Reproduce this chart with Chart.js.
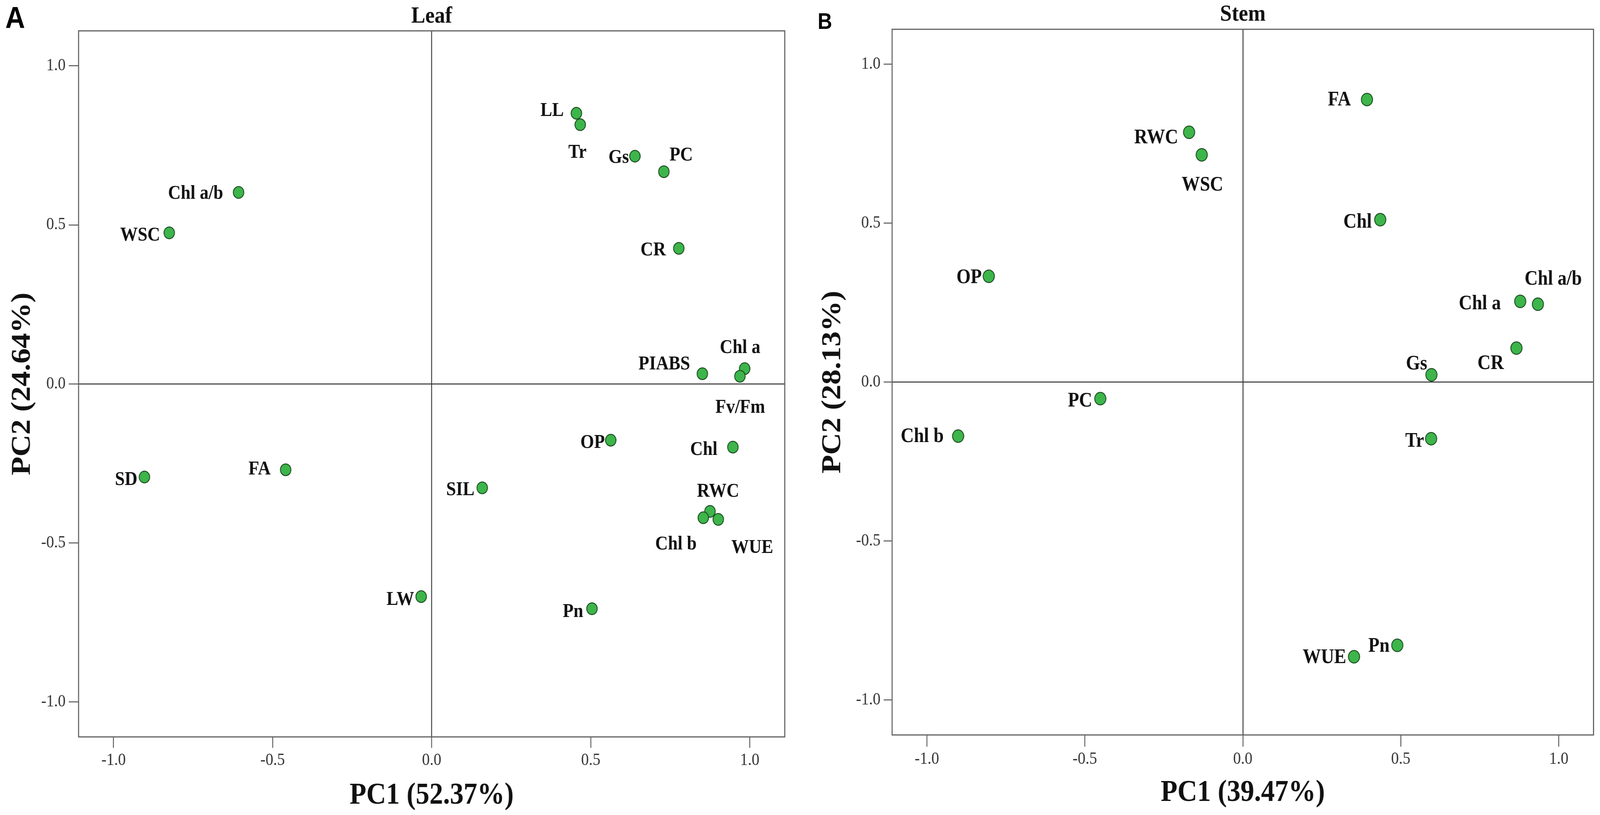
<!DOCTYPE html>
<html>
<head>
<meta charset="utf-8">
<title>PCA loadings - Leaf and Stem</title>
<script src="https://cdn.jsdelivr.net/npm/chart.js@4.4.1/dist/chart.umd.min.js"></script>
<style>
  html, body { margin: 0; padding: 0; background: #fff; overflow: hidden; }
  #page { position: relative; width: 4561px; height: 2087px; transform-origin: 0 0; }
  canvas { position: absolute; top: 0; }
  #leafChart { left: 0; }
  #stemChart { left: 2280px; }
  .panel-tag { position: absolute; font-family: "Liberation Sans", Arial, sans-serif; font-weight: bold; line-height: 1; color: #000; }
  #tagA { left: 15px; top: 6px; font-size: 78px; }
  #tagB { left: 2331px; top: 26px; font-size: 57px; }
</style>
</head>
<body>
<div id="page">
  <canvas id="leafChart" width="2280" height="2087"></canvas>
  <canvas id="stemChart" width="2281" height="2087"></canvas>
  <div class="panel-tag" id="tagA">A</div>
  <div class="panel-tag" id="tagB">B</div>
</div>
<script>
const tickValues = [-1.0, -0.5, 0.0, 0.5, 1.0];
const tickLabels = ['-1.0', '-0.5', '0.0', '0.5', '1.0'];

// Leaf loadings (panel A)
const leafTraits = ['Chl a/b', 'WSC', 'LL', 'Tr', 'Gs', 'PC', 'CR', 'PIABS', 'Chl a', 'Fv/Fm',
                    'OP', 'Chl', 'SIL', 'RWC', 'Chl b', 'WUE', 'SD', 'FA', 'LW', 'Pn'];
const leafPC1 = [-0.607, -0.825, 0.455, 0.467, 0.639, 0.730, 0.777, 0.851, 0.984, 0.969,
                 0.563, 0.947, 0.159, 0.875, 0.854, 0.901, -0.903, -0.459, -0.033, 0.504];
const leafPC2 = [0.602, 0.475, 0.851, 0.815, 0.716, 0.667, 0.426, 0.032, 0.048, 0.024,
                 -0.177, -0.199, -0.327, -0.401, -0.421, -0.426, -0.293, -0.270, -0.669, -0.707];

// Stem loadings (panel B)
const stemTraits = ['FA', 'RWC', 'WSC', 'Chl', 'OP', 'Chl a/b', 'Chl a', 'CR', 'Gs', 'PC',
                    'Chl b', 'Tr', 'Pn', 'WUE'];
const stemPC1 = [0.393, -0.170, -0.130, 0.435, -0.804, 0.934, 0.878, 0.866, 0.597, -0.451,
                 -0.901, 0.596, 0.489, 0.352];
const stemPC2 = [0.889, 0.786, 0.715, 0.511, 0.333, 0.245, 0.254, 0.107, 0.023, -0.052,
                 -0.170, -0.178, -0.828, -0.864];

// where each name sits next to its dot: [textAlign, dx, dy to baseline]
const leafLabelPlacement = [
  ['right', -44, 16], ['right', -26, 20], ['right', -36, 7], ['center', -8, 85],
  ['right', -17, 17], ['left', 16, -29], ['right', -37, 18], ['right', -35, -11],
  ['center', -13, -40], ['center', 1, 94], ['right', -17, 20], ['right', -44, 20],
  ['right', -22, 19], ['center', 23, -38], ['center', -78, 81], ['center', 97, 86],
  ['right', -20, 20], ['right', -43, 12], ['right', -20, 21], ['right', -25, 21]
];
const stemLabelPlacement = [
  ['right', -46, 15], ['right', -31, 28], ['center', 2, 91], ['right', -24, 20],
  ['right', -20, 18], ['left', -38, -50], ['right', -55, 20], ['right', -36, 54],
  ['right', -12, -14], ['right', -23, 20], ['right', -41, 15], ['right', -20, 21],
  ['right', -22, 17], ['right', -22, 16]
];

const SERIF = '"Liberation Serif", "Times New Roman", serif';
const PAGE_W = 4561;
const PAGE_H = 2087;

// the page is laid out at 4561x2087; stretch it onto whatever the viewport really is
const scaleX = window.innerWidth / PAGE_W;
const scaleY = window.innerHeight / PAGE_H;
document.getElementById('page').style.transform = `scale(${scaleX}, ${scaleY})`;
const renderRatio = Math.max(scaleX, scaleY) * (window.devicePixelRatio || 1);

const plotFrame = {
  id: 'plotFrame',
  beforeDatasetsDraw(chart) {
    const { ctx, chartArea: { left, top, right, bottom } } = chart;
    ctx.save();
    ctx.strokeStyle = '#606060';
    ctx.lineWidth = 3;
    ctx.strokeRect(left, top, right - left, bottom - top);
    ctx.restore();
  }
};

const makeTraitLabels = (names, placement, size) => ({
  id: 'traitLabels',
  afterDatasetsDraw(chart) {
    const { ctx } = chart;
    ctx.save();
    ctx.font = `bold ${size}px ${SERIF}`;
    ctx.fillStyle = '#111';
    ctx.textBaseline = 'alphabetic';
    chart.getDatasetMeta(0).data.forEach((pt, i) => {
        const [align, dx, dy] = placement[i];
        ctx.textAlign = align;
        ctx.fillText(names[i], pt.x + dx, pt.y + dy);
    });
    ctx.restore();
  }
});

const pcAxis = (title, titlePad, tickLength, tickPad, boxSize, horizontal) => ({
    type: 'linear',
    min: -1.11,
    max: 1.11,
    afterBuildTicks: (scale) => { scale.ticks = tickValues.map(value => ({ value })); },
    afterFit: (scale) => {
        if (horizontal) scale.height = boxSize;
        else scale.width = boxSize;
    },
    border: { display: false },
    grid: {
        drawOnChartArea: true,
        color: (ctx) => (ctx.tick && ctx.tick.value === 0 ? '#2e2e2e' : 'rgba(0,0,0,0)'),
        lineWidth: 2.5,
        tickColor: '#555',
        tickWidth: 2.5,
        tickLength
    },
    ticks: {
        padding: tickPad,
        color: '#333',
        font: { family: SERIF, size: 44 },
        callback: (value, index) => tickLabels[index]
    },
    title: {
        display: true,
        text: title,
        color: '#111',
        padding: horizontal ? { top: 0, bottom: titlePad } : { top: titlePad, bottom: 0 },
        font: { family: SERIF, size: 78, weight: 'bold', lineHeight: 1.2 }
    }
});

function createLoadingPlot(canvas, cfg) {
    return new Chart(canvas, {
        type: 'scatter',
        data: {
            datasets: [{
                data: cfg.pc1.map((x, i) => ({ x, y: cfg.pc2[i] })),
                pointRadius: cfg.radius,
                pointBackgroundColor: '#3db54a',
                pointBorderColor: '#1e4f24',
                pointBorderWidth: 2.5,
                showLine: false
            }]
        },
        options: {
            responsive: false,
            animation: false,
            devicePixelRatio: renderRatio,
            layout: { padding: { left: 0, top: 0, right: cfg.rightPad, bottom: 0 } },
            plugins: {
                legend: { display: false },
                tooltip: { enabled: false },
                title: {
                    display: true,
                    text: cfg.title,
                    fullSize: false,
                    color: '#111',
                    padding: cfg.titlePad,
                    font: { family: SERIF, size: 60, weight: 'bold', lineHeight: 1.2 }
                }
            },
            scales: {
                x: pcAxis(cfg.xTitle, cfg.xTitlePad, cfg.xTick, 6, cfg.xBox, true),
                y: pcAxis(cfg.yTitle, cfg.yTitlePad, cfg.yTick, 9, cfg.yBox, false)
            }
        },
        plugins: [plotFrame, makeTraitLabels(cfg.names, cfg.placement, cfg.labelSize)]
    });
}

createLoadingPlot(document.getElementById('leafChart'), {
    title: 'Leaf', titlePad: { top: 6, bottom: 1 },
    names: leafTraits, pc1: leafPC1, pc2: leafPC2, placement: leafLabelPlacement,
    xTitle: 'PC1 (52.37%)', yTitle: 'PC2 (24.64%)',
    xTitlePad: 2, yTitlePad: 18, xTick: 28, yTick: 28,
    xBox: 200, yBox: 224, rightPad: 43, radius: 15, labelSize: 50
});

createLoadingPlot(document.getElementById('stemChart'), {
    title: 'Stem', titlePad: { top: 1, bottom: 2 },
    names: stemTraits, pc1: stemPC1, pc2: stemPC2, placement: stemLabelPlacement,
    xTitle: 'PC1 (39.47%)', yTitle: 'PC2 (28.13%)',
    xTitlePad: 9, yTitlePad: 48, xTick: 30, yTick: 24,
    xBox: 205, yBox: 263, rightPad: 12, radius: 16, labelSize: 52
});
</script>
</body>
</html>
